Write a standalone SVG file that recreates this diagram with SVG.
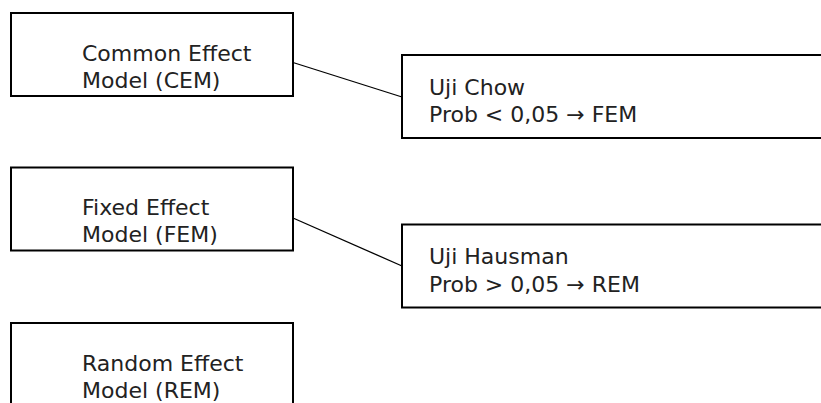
<svg xmlns="http://www.w3.org/2000/svg" width="821" height="403" viewBox="0 0 821 403">
<style>
.box{fill:#fff;stroke:#000;stroke-width:2}
.t{font-family:"DejaVu Sans",sans-serif;font-size:22px;fill:#222}
.c{stroke:#000;stroke-width:1.3;fill:none}
</style>
<rect width="821" height="403" fill="#fff"/>
<g id="connectors">
<line class="c" x1="293" y1="62.5" x2="402" y2="97"/>
<line class="c" x1="293" y1="218" x2="402" y2="266"/>
</g>
<g id="cem">
<rect class="box" x="11" y="13" width="282" height="83"/>
<text class="t" x="82" y="61">Common Effect</text>
<text class="t" x="82" y="87.5">Model (CEM)</text>
</g>
<g id="chow">
<rect class="box" x="402" y="55" width="430" height="83"/>
<text class="t" x="429" y="95">Uji Chow</text>
<text class="t" x="429" y="121.5">Prob &lt; 0,05 → FEM</text>
</g>
<g id="fem">
<rect class="box" x="11" y="167.5" width="282" height="83"/>
<text class="t" x="82" y="215">Fixed Effect</text>
<text class="t" x="82" y="242">Model (FEM)</text>
</g>
<g id="hausman">
<rect class="box" x="402" y="224.5" width="430" height="83"/>
<text class="t" x="429" y="264">Uji Hausman</text>
<text class="t" x="429" y="291.5">Prob &gt; 0,05 → REM</text>
</g>
<g id="rem">
<rect class="box" x="11" y="323" width="282" height="100"/>
<text class="t" x="82" y="371">Random Effect</text>
<text class="t" x="82" y="398">Model (REM)</text>
</g>
</svg>
